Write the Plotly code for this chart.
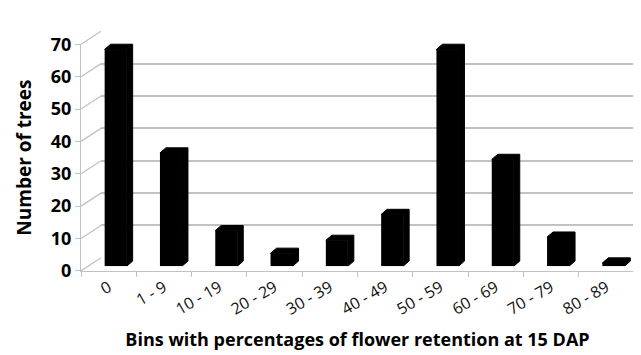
import plotly.graph_objects as go

# ---- data ----
categories = ["0", "1 - 9", "10 - 19", "20 - 29", "30 - 39", "40 - 49",
              "50 - 59", "60 - 69", "70 - 79", "80 - 89"]
num_trees = [67, 35, 11, 4, 8, 16, 67, 33, 9, 1]
y_ticks = [0, 10, 20, 30, 40, 50, 60, 70]

# ---- geometry (pixels of the 641x355 canvas) ----
W, H = 641, 355
FONT = "'Open Sans', Lato, sans-serif"
GRID = "#c2c2c2"

def fx(px):
    return px / W

def fy(py):
    return 1 - py / H

front_x = (73, 626)
front_y0, front_y70 = 268, 25          # pixel rows of 0 and 70 on the front axis
depth_dx, depth_dy = 20, -14           # front -> back wall offset
bar_shift_x, bar_shift_y = 7, -5       # front -> bar plane offset
px_per_unit = (front_y0 - front_y70) / 70.0
px_per_cat = (front_x[1] - front_x[0]) / len(categories)

n = len(categories)
xs = list(range(n))

fig = go.Figure()

# front-face of the columns
bar_w = 22 / px_per_cat
fig.add_trace(go.Bar(x=xs, y=num_trees, width=bar_w,
                     marker=dict(color="black", line=dict(width=0)),
                     xaxis="x3", yaxis="y3", hoverinfo="skip", showlegend=False))

# 3D extrusion (top + side) of each column, in the bar plane's data units
ddx = 6 / px_per_cat
ddy = 5.5 / px_per_unit
for i, v in zip(xs, num_trees):
    x0, x1 = i - bar_w / 2, i + bar_w / 2
    px_ = [x0, x0 + ddx, x1 + ddx, x1 + ddx, x1, x1, x0]
    py_ = [v, v + ddy, v + ddy, ddy, 0, v, v]
    fig.add_trace(go.Scatter(x=px_, y=py_, mode="lines", fill="toself",
                             fillcolor="black", line=dict(color="black", width=1),
                             xaxis="x3", yaxis="y3", hoverinfo="skip", showlegend=False))

# invisible anchors so the front and back axes are drawn
fig.add_trace(go.Scatter(x=[-0.5, n - 0.5], y=[0, 0], mode="none",
                         xaxis="x", yaxis="y", hoverinfo="skip", showlegend=False))
fig.add_trace(go.Scatter(x=[-0.5], y=[0], mode="none",
                         xaxis="x2", yaxis="y2", hoverinfo="skip", showlegend=False))

back_x0 = front_x[0] + depth_dx
back_range_hi = -0.5 + (W - back_x0) / px_per_cat

shapes = []
# side-wall diagonals at each gridline level
for v in y_ticks:
    yf = front_y0 - v * px_per_unit
    shapes.append(dict(type="line", xref="paper", yref="paper",
                       x0=fx(front_x[0]), y0=fy(yf),
                       x1=fx(front_x[0] + depth_dx), y1=fy(yf + depth_dy),
                       line=dict(color=GRID, width=1.3)))
# right edge of floor
shapes.append(dict(type="line", xref="paper", yref="paper",
                   x0=fx(front_x[1]), y0=fy(front_y0),
                   x1=fx(front_x[1] + depth_dx), y1=fy(front_y0 + depth_dy),
                   line=dict(color=GRID, width=1.3)))

fig.update_layout(
    width=W, height=H,
    margin=dict(l=0, r=0, t=0, b=0),
    paper_bgcolor="white", plot_bgcolor="rgba(0,0,0,0)",
    showlegend=False,
    font=dict(family=FONT, color="black"),
    shapes=shapes,
    # front axes: labels, ticks, axis lines
    xaxis=dict(domain=[fx(front_x[0]), fx(front_x[1])], range=[-0.5, n - 0.5],
               anchor="y", tickmode="array", tickvals=xs, ticktext=categories,
               tickangle=-30, ticks="", showgrid=False, zeroline=False,
               showline=True, linecolor=GRID, linewidth=1.3,
               tickfont=dict(size=16, family=FONT, color="#111"),
               minor=dict(tickmode="linear", tick0=-0.5, dtick=1, ticks="outside",
                          ticklen=5, tickcolor=GRID, tickwidth=1.3, showgrid=False),
               title=dict(text="Bins with percentages of flower retention at 15 DAP",
                          font=dict(size=18, family=FONT, weight="bold"), standoff=14)),
    yaxis=dict(domain=[fy(front_y0), fy(front_y70)], range=[0, 70], anchor="x",
               tickmode="array", tickvals=y_ticks, ticks="outside", ticklen=5,
               tickcolor=GRID, tickwidth=1.3, showgrid=False, zeroline=False,
               showline=True, linecolor=GRID, linewidth=1.3,
               tickfont=dict(size=18, family=FONT, weight="bold"),
               title=dict(text="Number of trees",
                          font=dict(size=19, family=FONT, weight="bold"), standoff=14)),
    # back wall: gridlines only
    xaxis2=dict(domain=[fx(back_x0), 1], range=[-0.5, back_range_hi], anchor="y2",
                visible=False),
    yaxis2=dict(domain=[fy(front_y0 + depth_dy), fy(front_y70 + depth_dy)],
                range=[0, 70], anchor="x2", tickmode="array", tickvals=y_ticks,
                showgrid=True, gridcolor=GRID, gridwidth=1.5, showticklabels=False,
                ticks="", zeroline=False, showline=False),
    # bar plane
    xaxis3=dict(domain=[fx(front_x[0] + bar_shift_x), fx(front_x[1] + bar_shift_x)],
                range=[-0.5, n - 0.5], anchor="y3", visible=False),
    yaxis3=dict(domain=[fy(front_y0 + bar_shift_y), fy(front_y70 + bar_shift_y)],
                range=[0, 70], anchor="x3", visible=False),
)

fig.write_html("out.html")
